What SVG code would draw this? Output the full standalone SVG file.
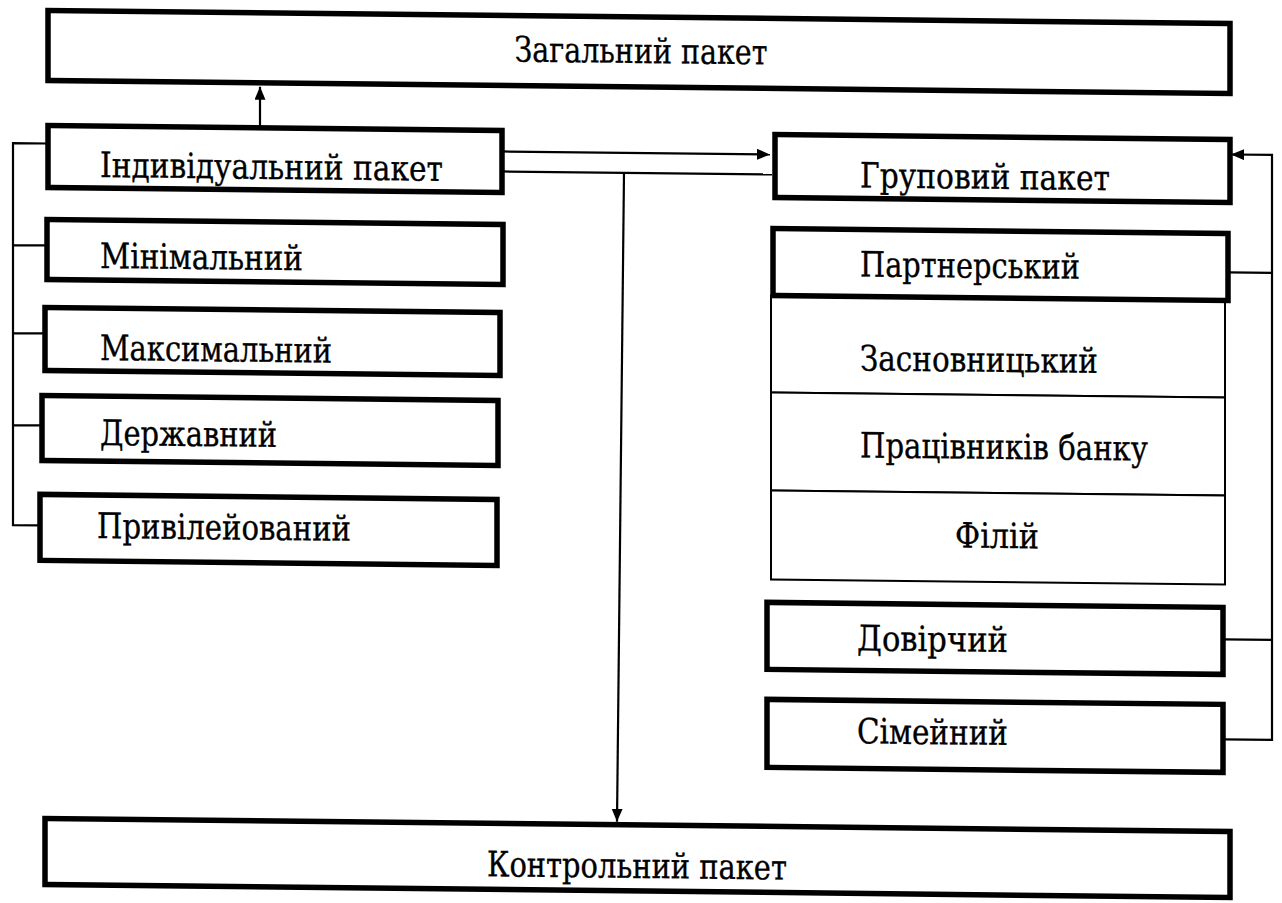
<svg xmlns="http://www.w3.org/2000/svg" width="1282" height="903" viewBox="0 0 1282 903">
<defs>
<marker id="ah" markerWidth="15" markerHeight="12" refX="13" refY="5.5" orient="auto" markerUnits="userSpaceOnUse"><path d="M0,0 L13,5.5 L0,11 z" fill="#000"/></marker>
<style>
.box{fill:#fff;stroke:#000;stroke-width:5.5}
.cell{fill:#fff;stroke:#000;stroke-width:2}
.ln{fill:none;stroke:#000;stroke-width:2.2}
.t{font-family:'DejaVu Serif','Liberation Serif',serif;font-size:35px;fill:#000;stroke:#000;stroke-width:0.35}
.c{text-anchor:middle}
</style>
</defs>
<rect width="1282" height="903" fill="#fff"/>
<g transform="matrix(1,0.011,0,1,0,-7.05)">
<g id="connectors">
<path class="ln" d="M260,132 V91" marker-end="url(#ah)"/>
<path class="ln" d="M502,153 H770" marker-end="url(#ah)"/>
<path class="ln" d="M502,173 H772"/>
<path class="ln" d="M624,173 L617,822" marker-end="url(#ah)"/>
<path class="ln" d="M48,150 H13 V532 H40 M13,252 H47 M13,340 H45 M13,432 H42"/>
<path class="ln" d="M1223,733 H1272 V148 H1231" marker-end="url(#ah)"/>
<path class="ln" d="M1228,266 H1272 M1223,633 H1272"/>
</g>
<g id="n-zagalnyi"><rect class="box" x="48" y="17" width="1182" height="70"/><text class="t c" x="641" y="63" textLength="253" lengthAdjust="spacingAndGlyphs">Загальний пакет</text></g>
<g id="n-indyvidualnyi"><rect class="box" x="48" y="132" width="454" height="62"/><text class="t" x="100" y="183" textLength="343" lengthAdjust="spacingAndGlyphs">Індивідуальний пакет</text></g>
<g id="n-minimalnyi"><rect class="box" x="47" y="226" width="456" height="60"/><text class="t" x="100" y="274" textLength="203" lengthAdjust="spacingAndGlyphs">Мінімальний</text></g>
<g id="n-maksymalnyi"><rect class="box" x="45" y="314" width="455" height="63"/><text class="t" x="100" y="366" textLength="232" lengthAdjust="spacingAndGlyphs">Максимальний</text></g>
<g id="n-derzhavnyi"><rect class="box" x="42" y="402" width="456" height="65"/><text class="t" x="100" y="451" textLength="177" lengthAdjust="spacingAndGlyphs">Державний</text></g>
<g id="n-pryvileiovanyi"><rect class="box" x="40" y="501" width="457" height="66"/><text class="t" x="97" y="544" textLength="254" lengthAdjust="spacingAndGlyphs">Привілейований</text></g>
<g id="n-grupovyi"><rect class="box" x="775" y="133" width="455" height="63"/><text class="t" x="860" y="185" textLength="250" lengthAdjust="spacingAndGlyphs">Груповий пакет</text></g>
<g id="n-zasnovnytskyi"><rect class="cell" x="771" y="294" width="454" height="97"/><text class="t" x="860" y="368" textLength="238" lengthAdjust="spacingAndGlyphs">Засновницький</text></g>
<g id="n-pratsivnykiv"><rect class="cell" x="771" y="391" width="454" height="98"/><text class="t" x="860" y="455" textLength="288" lengthAdjust="spacingAndGlyphs">Працівників банку</text></g>
<g id="n-filii"><rect class="cell" x="771" y="489" width="454" height="89"/><text class="t" x="955" y="544" textLength="84" lengthAdjust="spacingAndGlyphs">Філій</text></g>
<g id="n-partnerskyi"><rect class="box" x="773" y="227" width="455" height="67"/><text class="t" x="860" y="274" textLength="220" lengthAdjust="spacingAndGlyphs">Партнерський</text></g>
<g id="n-dovirchyi"><rect class="box" x="767" y="601" width="456" height="67"/><text class="t" x="857" y="648" textLength="151" lengthAdjust="spacingAndGlyphs">Довірчий</text></g>
<g id="n-simeinyi"><rect class="box" x="767" y="698" width="456" height="68"/><text class="t" x="857" y="741" textLength="151" lengthAdjust="spacingAndGlyphs">Сімейний</text></g>
<g id="n-kontrolnyi"><rect class="box" x="45" y="825" width="1185" height="66"/><text class="t" x="487" y="878" textLength="300" lengthAdjust="spacingAndGlyphs">Контрольний пакет</text></g>
</g>
</svg>
